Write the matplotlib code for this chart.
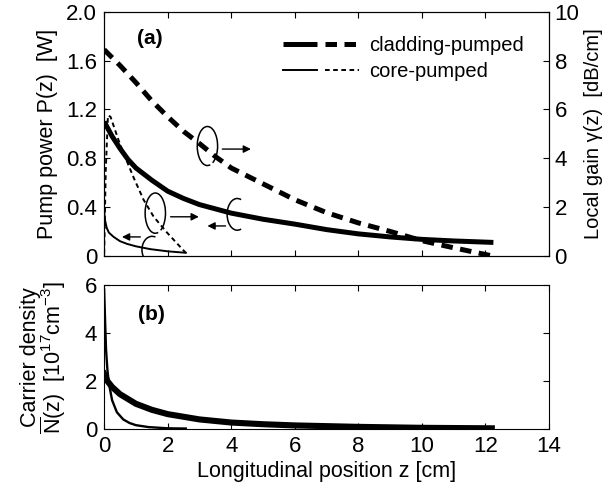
import matplotlib
matplotlib.use("Agg")
import matplotlib.pyplot as plt
from matplotlib.patches import Arc
from matplotlib.legend_handler import HandlerTuple

plt.rcParams["font.family"] = ["Liberation Sans", "DejaVu Sans"]
plt.rcParams["mathtext.fontset"] = "custom"
plt.rcParams["mathtext.rm"] = "Liberation Sans"
plt.rcParams["mathtext.it"] = "Liberation Sans:italic"
plt.rcParams["font.size"] = 15

# cladding-pumped: pump power [W] and local gain [dB/cm]
clad_z_p = [0, 0.25, 0.5, 0.75, 1, 1.5, 2, 2.5, 3, 4, 5, 6, 7, 8, 9, 10, 11, 12.25]
clad_p = [1.10, 0.98, 0.88, 0.79, 0.72, 0.62, 0.53, 0.47, 0.42, 0.35, 0.30, 0.26,
          0.215, 0.18, 0.155, 0.135, 0.122, 0.11]
clad_z_g = [0, 0.5, 1, 1.5, 2, 2.5, 3, 3.5, 4, 5, 6, 7, 8, 9, 10, 11, 12.2]
clad_g = [8.45, 7.8, 7.1, 6.35, 5.7, 5.1, 4.6, 4.07, 3.6, 2.95, 2.3, 1.77, 1.35,
          1.0, 0.62, 0.33, 0.0]

# core-pumped
core_z_p = [0, 0.03, 0.08, 0.15, 0.3, 0.5, 0.72, 1.0, 1.45, 2.0, 2.57]
core_p = [0.36, 0.29, 0.23, 0.19, 0.155, 0.12, 0.098, 0.078, 0.055, 0.037, 0.025]
core_z_g = [0, 0.05, 0.12, 0.2, 0.45, 0.66, 0.93, 1.24, 1.56, 1.98, 2.57]
core_g = [0.1, 3.5, 5.75, 5.7, 4.75, 4.05, 3.2, 2.3, 1.6, 0.95, 0.12]

# carrier density [1e17 cm^-3]
clad_z_n = [0, 0.1, 0.25, 0.5, 1, 1.5, 2, 3, 4, 5, 6, 8, 10, 12.2]
clad_n = [2.3, 2.0, 1.75, 1.45, 1.05, 0.8, 0.62, 0.4, 0.27, 0.2, 0.15, 0.09, 0.05, 0.03]
core_z_n = [0, 0.03, 0.06, 0.1, 0.15, 0.25, 0.4, 0.6, 0.8, 1.0, 1.4, 2.0, 2.57]
core_n = [5.8, 4.5, 3.3, 2.5, 1.9, 1.2, 0.7, 0.4, 0.25, 0.16, 0.08, 0.03, 0.02]

x_ticks = [0, 2, 4, 6, 8, 10, 12, 14]
p_ticks = [0, 0.4, 0.8, 1.2, 1.6, 2.0]
p_labels = ["0", "0.4", "0.8", "1.2", "1.6", "2.0"]
g_ticks = [0, 2, 4, 6, 8, 10]
n_ticks = [0, 2, 4, 6]

thick = 3.6
thin = 1.4
tick_fs = 16
label_fs = 15.5

fig = plt.figure(figsize=(6.02, 4.92), dpi=100)
ax1 = fig.add_axes([0.173, 0.480, 0.739, 0.496])
ax2 = ax1.twinx()
ax3 = fig.add_axes([0.173, 0.128, 0.739, 0.293])

for ax in (ax1, ax2, ax3):
    ax.tick_params(direction="in", length=4.5, width=0.8, labelsize=tick_fs, pad=5)

# (a)
l1, = ax1.plot(clad_z_p, clad_p, color="k", lw=thick, solid_capstyle="butt")
l3, = ax1.plot(core_z_p, core_p, color="k", lw=thin)
l2, = ax2.plot(clad_z_g, clad_g, color="k", lw=thick, dashes=(2.3, 1.5))
l4, = ax2.plot(core_z_g, core_g, color="k", lw=thin, dashes=(2.4, 1.8))

ax1.set_xlim(0, 14)
ax1.set_ylim(0, 2.0)
ax1.set_xticks(x_ticks)
ax1.set_xticklabels([])
ax1.set_yticks(p_ticks)
ax1.set_yticklabels(p_labels)
ax1.tick_params(top=True)
ax1.set_ylabel("Pump power P(z)  [W]", fontsize=label_fs, labelpad=6)
ax2.set_ylim(0, 10)
ax2.set_yticks(g_ticks)
ax2.tick_params(pad=4)
ax2.set_ylabel("Local gain γ(z)  [dB/cm]", fontsize=14.5, labelpad=3)
ax1.text(1.45, 1.78, "(a)", fontweight="bold", ha="center", va="center", fontsize=15)

ax1.legend([(l1, l2), (l3, l4)], ["cladding-pumped", "core-pumped"],
           handler_map={tuple: HandlerTuple(ndivide=None, pad=0.4)},
           handlelength=3.8, frameon=False, loc="upper right",
           bbox_to_anchor=(0.985, 0.975), fontsize=14.5, labelspacing=0.35,
           handletextpad=0.5)

# circles with arrows
def mark(ax, cx, cy, w, h, t1, t2, x0, x1, ya):
    ax.add_patch(Arc((cx, cy), w, h, theta1=t1, theta2=t2, color="k", lw=1.1))
    ax.annotate("", xy=(x1, ya), xytext=(x0, ya),
                arrowprops=dict(arrowstyle="-|>", color="k", lw=1.0,
                                mutation_scale=11, shrinkA=0, shrinkB=0))

mark(ax1, 3.25, 0.90, 0.64, 0.32, -40, 300, 3.72, 4.62, 0.875)
mark(ax1, 1.61, 0.35, 0.64, 0.33, -40, 300, 2.09, 2.98, 0.32)
mark(ax1, 4.19, 0.34, 0.64, 0.26, 45, 315, 3.82, 3.25, 0.245)
mark(ax1, 1.51, 0.05, 0.64, 0.22, 45, 315, 1.14, 0.56, 0.155)

# (b)
ax3.plot(clad_z_n, clad_n, color="k", lw=thick + 0.8)
ax3.plot(core_z_n, core_n, color="k", lw=thin + 0.3)
ax3.set_xlim(0, 14)
ax3.set_ylim(0, 6)
ax3.set_xticks(x_ticks)
ax3.set_yticks(n_ticks)
ax3.tick_params(top=True, right=True)
ax3.set_xlabel("Longitudinal position z [cm]", fontsize=label_fs, labelpad=3)
ax3.set_ylabel("Carrier density\n" + r"$\overline{\rm N}$(z)  [10$^{17}$cm$^{-3}$]",
               fontsize=label_fs, linespacing=0.9, labelpad=12)
ax3.text(1.5, 4.75, "(b)", fontweight="bold", ha="center", va="center", fontsize=15)

fig.savefig("out.png", dpi=100)
